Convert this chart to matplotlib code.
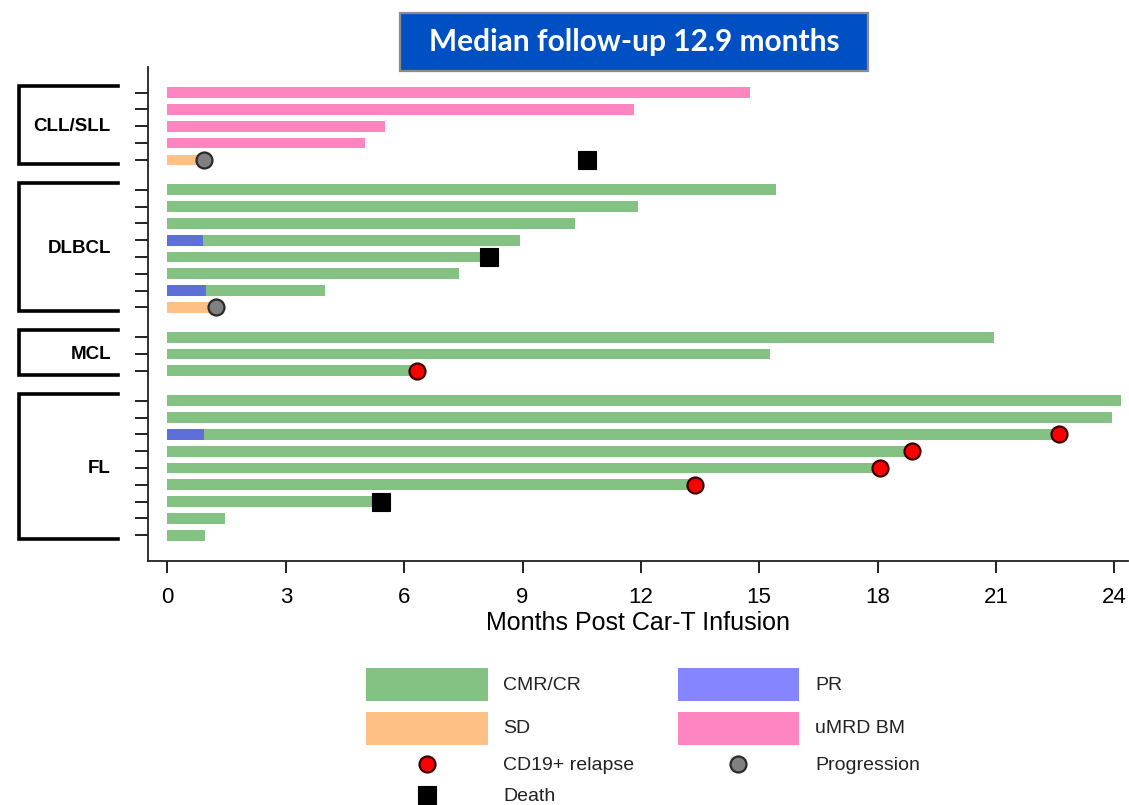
import matplotlib
matplotlib.use("Agg")
import matplotlib.pyplot as plt
from matplotlib.patches import Rectangle
from matplotlib.lines import Line2D
from matplotlib import transforms

# ---- data -------------------------------------------------------------
groups = ["CLL/SLL", "DLBCL", "MCL", "FL"]
group_sizes = [5, 8, 3, 9]

# months of follow-up for each patient (top to bottom)
follow_up = [14.77, 11.83, 5.51, 5.01, 0.93,
             15.43, 11.93, 10.33, 8.94, 8.15, 7.39, 3.99, 1.23,
             20.96, 15.28, 6.33,
             24.18, 23.95, 22.60, 18.88, 18.06, 13.37, 5.41, 1.46, 0.95]

# response shown along each bar
response = (["uMRD BM"] * 4 + ["SD"]
            + ["CMR/CR"] * 7 + ["SD"]
            + ["CMR/CR"] * 3
            + ["CMR/CR"] * 9)

# patients with a partial response before reaching CMR/CR
pr_rows = [8, 11, 18]
pr_end = [0.90, 0.97, 0.93]

# events
relapse_rows = [15, 18, 19, 20, 21]
relapse_time = [6.33, 22.60, 18.88, 18.06, 13.37]
progression_rows = [4, 12]
progression_time = [0.93, 1.23]
death_rows = [4, 9, 22]
death_time = [10.63, 8.15, 5.41]

x_ticks = [0, 3, 6, 9, 12, 15, 18, 21, 24]
x_label = "Months Post Car-T Infusion"
title_text = "Median follow-up 12.9 months"

# ---- styling ----------------------------------------------------------
colors = {"CMR/CR": "#83C283", "PR": "#5F6FD9", "SD": "#FFC086",
          "uMRD BM": "#FF85C0"}
legend_colors = {"CMR/CR": "#83C283", "PR": "#8585FF", "SD": "#FFC086",
                 "uMRD BM": "#FF85C0"}
FONT = "Liberation Sans"

W, H = 1129, 805
fig = plt.figure(figsize=(W / 100, H / 100), dpi=100)
ax = fig.add_axes([148 / W, 1 - 561 / H, (1128 - 148) / W, (561 - 67) / H])

# vertical positions: one unit per patient, extra gap between disease groups
GAP = 0.78
ypos = []
group_bounds = []
offset = 0.0
for n in group_sizes:
    start = offset
    for i in range(n):
        ypos.append(offset)
        offset += 1
    group_bounds.append((start, offset - 1))
    offset += GAP

BAR_H = 0.64
for y, end, resp in zip(ypos, follow_up, response):
    ax.barh(y, end, height=BAR_H, left=0, color=colors[resp], edgecolor="none", zorder=2)
for r, e in zip(pr_rows, pr_end):
    ax.barh(ypos[r], e, height=BAR_H, left=0, color=colors["PR"], edgecolor="none", zorder=3)

MS = 11.5
MS_SQ = 12.5
ax.plot(relapse_time, [ypos[r] for r in relapse_rows], "o", ms=MS,
        mfc="#FF0000", mec="#3A0000", mew=1.6, zorder=5, clip_on=False)
ax.plot(progression_time, [ypos[r] for r in progression_rows], "o", ms=MS,
        mfc="#808080", mec="#2A2A2A", mew=1.6, zorder=5, clip_on=False)
ax.plot(death_time, [ypos[r] for r in death_rows], "s", ms=MS_SQ,
        mfc="#000000", mec="#000000", mew=0.8, zorder=5, clip_on=False)

ax.set_xlim(-0.494, 24.35)
ax.set_ylim(27.88, -1.53)

ax.spines["top"].set_visible(False)
ax.spines["right"].set_visible(False)
for s in ("left", "bottom"):
    ax.spines[s].set_linewidth(1.3)
    ax.spines[s].set_color("#222222")

ax.set_yticks(ypos)
ax.set_yticklabels([])
ax.tick_params(axis="y", length=9.5, width=1.4, color="#222222")
ax.set_xticks(x_ticks)
ax.set_xticklabels([str(t) for t in x_ticks], fontsize=16, family=FONT)
ax.tick_params(axis="x", length=8.6, width=1.4, color="#222222", pad=10)
ax.set_xlabel(x_label, fontsize=18, family=FONT, labelpad=2)

# group brackets on the left
blend = transforms.blended_transform_factory(fig.transFigure, ax.transData)
bx0, bx1 = 19 / W, 118 / W
for name, (top, bottom) in zip(groups, group_bounds):
    yt, yb = top - 0.42, bottom + 0.22
    ax.add_line(Line2D([bx1, bx0, bx0, bx1], [yt, yt, yb, yb], transform=blend,
                       color="black", lw=2.6, clip_on=False, solid_joinstyle="miter"))
    ax.text(111 / W, (yt + yb) / 2 + 0.12, name, transform=blend, ha="right",
            va="center", fontsize=13.5, fontweight="bold", family=FONT)

# title box
fig.patches.append(Rectangle((400 / W, 1 - 70.7 / H), 468 / W, 58 / H,
                             transform=fig.transFigure, facecolor="#0050C4",
                             edgecolor="#8C8C8C", lw=1.6, zorder=1))
fig.text(634 / W, 1 - 42 / H, title_text, ha="center", va="center", color="white",
         fontsize=21.5, fontweight="bold", family="Lato")

# legend
def patch(x0, y0, color):
    fig.patches.append(Rectangle((x0 / W, 1 - (y0 + 32.5) / H), 121.5 / W, 32.5 / H,
                                 transform=fig.transFigure, facecolor=color,
                                 edgecolor="none"))

def label(x, y, s):
    fig.text(x / W, 1 - y / H, s, ha="left", va="center", fontsize=14,
             family=FONT, color="#222222")

patch(366, 668, legend_colors["CMR/CR"]); label(503, 685, "CMR/CR")
patch(678, 668, legend_colors["PR"]); label(815, 685, "PR")
patch(366, 712, legend_colors["SD"]); label(503, 728, "SD")
patch(678, 712, legend_colors["uMRD BM"]); label(815, 728, "uMRD BM")

fig.add_artist(Line2D([426.7 / W], [1 - 764 / H], marker="o", ms=MS, mfc="#FF0000",
                      mec="#3A0000", mew=1.6, transform=fig.transFigure))
label(503, 765, "CD19+ relapse")
fig.add_artist(Line2D([738 / W], [1 - 764 / H], marker="o", ms=MS, mfc="#808080",
                      mec="#2A2A2A", mew=1.6, transform=fig.transFigure))
label(815, 765, "Progression")
fig.add_artist(Line2D([426.7 / W], [1 - 795 / H], marker="s", ms=MS_SQ, mfc="#000000",
                      mec="#000000", mew=0.8, transform=fig.transFigure))
label(503, 796, "Death")

fig.savefig("out.png", dpi=100)
